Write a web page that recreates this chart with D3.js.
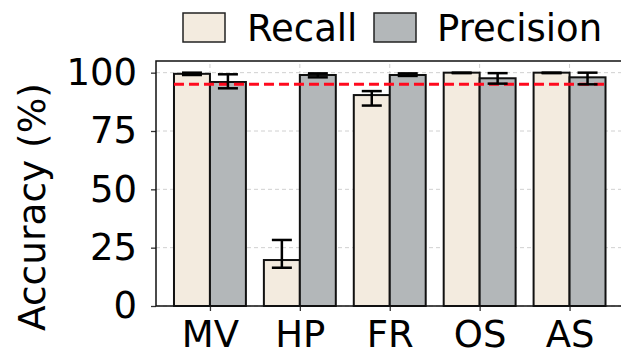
<!DOCTYPE html>
<html>
<head>
<meta charset="utf-8">
<script src="https://cdn.jsdelivr.net/npm/d3@7"></script>
<style>
  body { margin: 0; background: #fff; }
  svg { display: block; font-family: "DejaVu Sans", sans-serif; }
</style>
</head>
<body>
<svg id="chart"></svg>
<script>
// categories and series
let categories = ["MV", "HP", "FR", "OS", "AS"];
let seriesNames = ["Recall", "Precision"];
let recall = [99.5, 19.7, 90.4, 100, 100];
let recallLow = [99.0, 16.4, 85.9, 99.8, 99.8];
let recallHigh = [100, 28.3, 92.1, 100, 100];
let precision = [96.0, 99.0, 99.0, 97.6, 98.0];
let precisionLow = [93.3, 98.0, 98.6, 95.3, 95.0];
let precisionHigh = [99.3, 99.7, 99.7, 99.8, 100];
let yTicks = [0, 25, 50, 75, 100];
let threshold = 95;

let width = 621;
let height = 354;
let colors = ["#f3ebdf", "#b3b7b9"];

let svg = d3.select("#chart").attr("width", width).attr("height", height);

// scales: group index on x, percent on y
let xScale = d3.scaleLinear().domain([-0.6, 4.6]).range([156, 623.5]);
let yScale = d3.scaleLinear().domain([0, 105]).range([306, 61]);
let barW = 0.4;

// grid
let grid = svg.append("g");
grid.selectAll(".hg").data(yTicks).enter().append("line")
  .attr("x1", xScale(-0.6)).attr("x2", xScale(4.6))
  .attr("y1", d => yScale(d)).attr("y2", d => yScale(d))
  .attr("stroke", "#d0d0d0").attr("stroke-width", 1).attr("stroke-dasharray", "4,3");
grid.selectAll(".vg").data(categories).enter().append("line")
  .attr("x1", (d, i) => xScale(i)).attr("x2", (d, i) => xScale(i))
  .attr("y1", yScale(0)).attr("y2", yScale(105))
  .attr("stroke", "#d0d0d0").attr("stroke-width", 1).attr("stroke-dasharray", "4,3");

// bars
let series = [
  { vals: recall, lo: recallLow, hi: recallHigh, off: -barW },
  { vals: precision, lo: precisionLow, hi: precisionHigh, off: 0 }
];
series.forEach((s, k) => {
  svg.append("g").selectAll("rect").data(s.vals).enter().append("rect")
    .attr("x", (d, i) => xScale(i + s.off))
    .attr("width", xScale(barW) - xScale(0))
    .attr("y", d => yScale(d))
    .attr("height", d => yScale(0) - yScale(d))
    .attr("fill", colors[k]).attr("stroke", "#111").attr("stroke-width", 2);
});

// threshold line
svg.append("line")
  .attr("x1", xScale(-0.4)).attr("x2", xScale(4.4))
  .attr("y1", yScale(threshold)).attr("y2", yScale(threshold))
  .attr("stroke", "#ff0a1e").attr("stroke-width", 3).attr("stroke-dasharray", "10,5");

// error bars
series.forEach((s) => {
  let g = svg.append("g").attr("stroke", "#000").attr("stroke-width", 2.5);
  s.vals.forEach((v, i) => {
    let cx = xScale(i + s.off + barW / 2);
    g.append("line").attr("x1", cx).attr("x2", cx)
      .attr("y1", yScale(s.lo[i])).attr("y2", yScale(s.hi[i]));
    [s.lo[i], s.hi[i]].forEach(e => {
      g.append("line").attr("x1", cx - 10).attr("x2", cx + 10)
        .attr("y1", yScale(e)).attr("y2", yScale(e));
    });
  });
});

// axes
let yAxis = d3.axisLeft(yScale).tickValues(yTicks).tickSize(5).tickPadding(14);
let gy = svg.append("g").attr("transform", "translate(156,0)").call(yAxis);
gy.select(".domain").remove();
gy.selectAll("text").attr("font-size", 37).attr("font-family", "DejaVu Sans").attr("fill", "#000");
gy.selectAll("line").attr("stroke", "#333").attr("stroke-width", 1.3);

let xAxis = d3.axisBottom(xScale).tickValues(d3.range(categories.length))
  .tickFormat(i => categories[i]).tickSize(5).tickPadding(6);
let gx = svg.append("g").attr("transform", "translate(0,306)").call(xAxis);
gx.select(".domain").remove();
gx.selectAll("text").attr("font-size", 37).attr("font-family", "DejaVu Sans").attr("fill", "#000")
  .attr("dy", null).attr("y", 41);
gx.selectAll("line").attr("stroke", "#333").attr("stroke-width", 1.3);

// spines
svg.append("rect")
  .attr("x", 156).attr("y", 61)
  .attr("width", xScale(4.6) - 156).attr("height", 306 - 61)
  .attr("fill", "none").attr("stroke", "#111").attr("stroke-width", 1.5);

// y label
svg.append("text")
  .attr("transform", "translate(45,207) rotate(-90)")
  .attr("text-anchor", "middle")
  .attr("font-size", 37.5)
  .text("Accuracy (%)");

// legend
let legendX = [183, 374];
let legendTextX = [247, 437];
seriesNames.forEach((name, k) => {
  svg.append("rect").attr("x", legendX[k]).attr("y", 13).attr("width", 42).attr("height", 29)
    .attr("fill", colors[k]).attr("stroke", "#222").attr("stroke-width", 1.5);
  svg.append("text").attr("x", legendTextX[k]).attr("y", 41)
    .attr("font-size", 37).text(name);
});
</script>
</body>
</html>
